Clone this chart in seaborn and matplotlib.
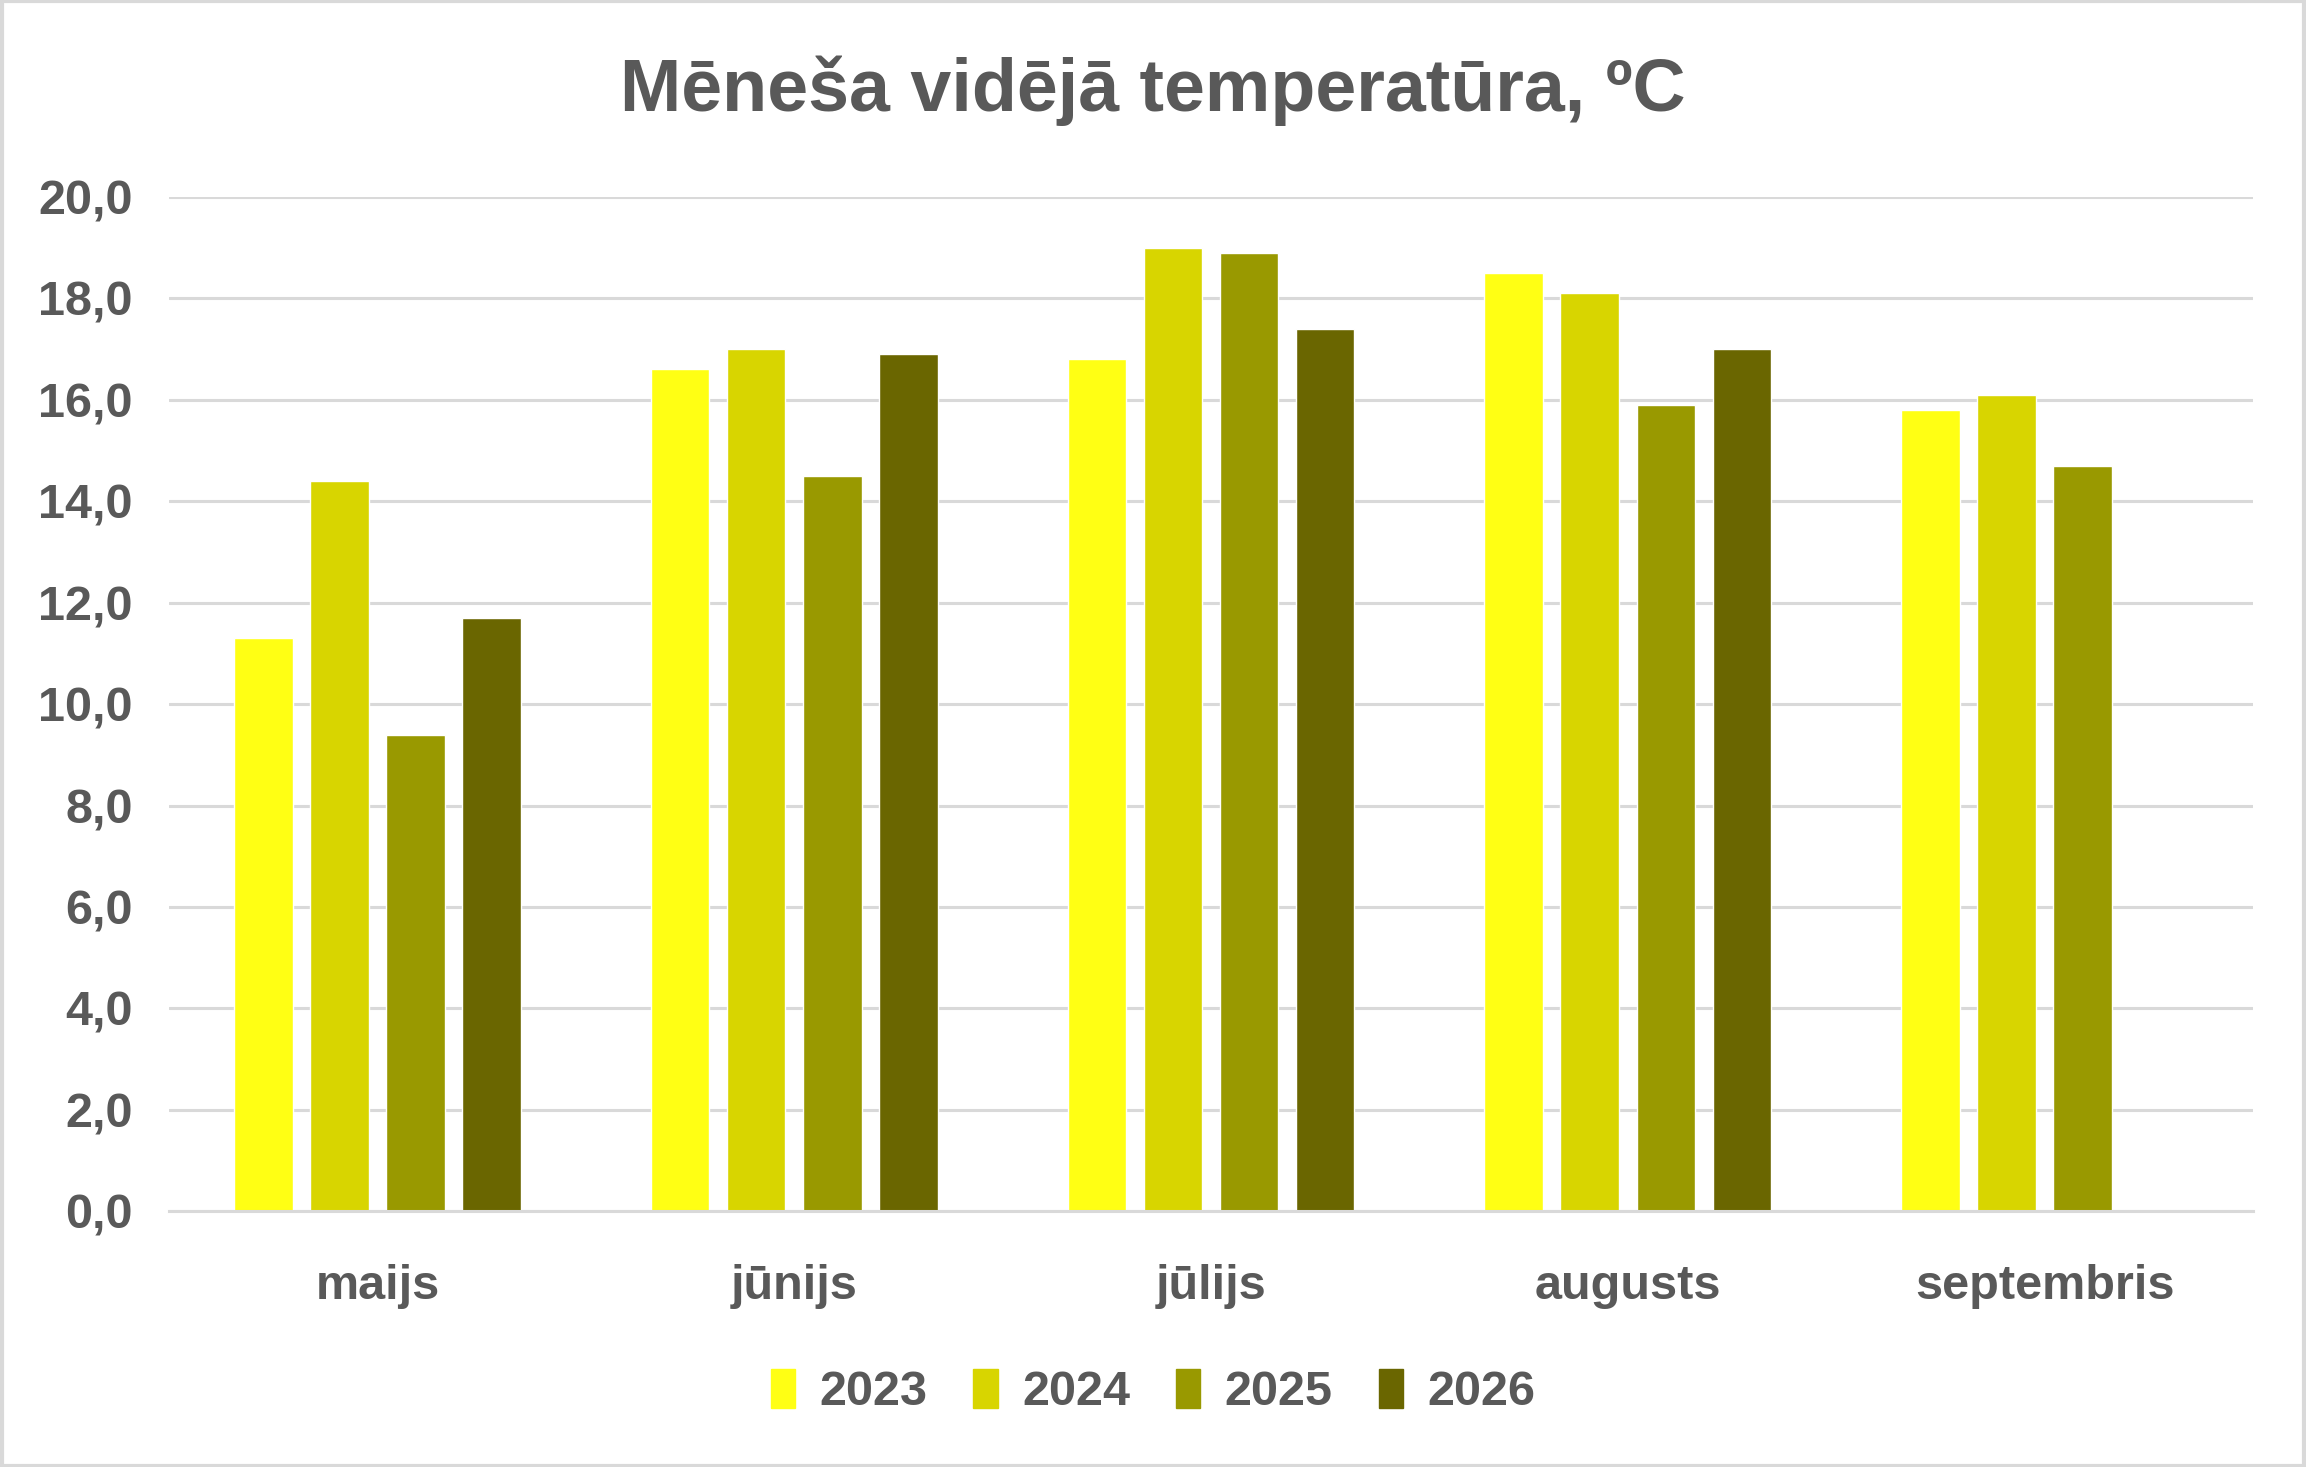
import matplotlib
matplotlib.use("Agg")
import matplotlib.pyplot as plt
import matplotlib.patches as mpatches
import numpy as np
import pandas as pd
import seaborn as sns
from matplotlib.ticker import FuncFormatter

months = ["maijs", "jūnijs", "jūlijs", "augusts", "septembris"]
years = ["2023", "2024", "2025", "2026"]
t_2023 = [11.3, 16.6, 16.8, 18.5, 15.8]
t_2024 = [14.4, 17.0, 19.0, 18.1, 16.1]
t_2025 = [9.4, 14.5, 18.9, 15.9, 14.7]
t_2026 = [11.7, 16.9, 17.4, 17.0, np.nan]
colors = ["#FFFF14", "#D8D500", "#999900", "#6A6600"]
text_color = "#595959"

rows = []
for year, vals in zip(years, [t_2023, t_2024, t_2025, t_2026]):
    for m, v in zip(months, vals):
        rows.append({"menesis": m, "gads": year, "temp": v})
df = pd.DataFrame(rows)

sns.set_theme(style="white")
plt.rcParams["font.family"] = ["Liberation Sans", "DejaVu Sans"]

fig = plt.figure(figsize=(23.06, 14.67), dpi=100)
ax = fig.add_axes([0.0733, 0.1743, 0.9037, 0.6914])

sns.barplot(data=df, x="menesis", y="temp", hue="gads", order=months,
            hue_order=years, palette=colors, width=0.73, gap=0.23,
            saturation=1, errorbar=None, ax=ax, legend=False)

ax.set_ylim(0, 20)
ax.set_yticks(np.arange(0, 20.1, 2))
ax.yaxis.set_major_formatter(FuncFormatter(lambda v, p: f"{v:.1f}".replace(".", ",")))
ax.grid(axis="y", color="#D9D9D9", linewidth=2.2)
ax.set_axisbelow(True)
for s in ["top", "right", "left"]:
    ax.spines[s].set_visible(False)
ax.spines["bottom"].set_color("#D9D9D9")
ax.spines["bottom"].set_linewidth(2.2)
ax.set_xlabel("")
ax.set_ylabel("")
ax.tick_params(axis="both", length=0, labelsize=35, labelcolor=text_color)
ax.tick_params(axis="x", pad=38)
ax.tick_params(axis="y", pad=26)
for lbl in ax.get_xticklabels() + ax.get_yticklabels():
    lbl.set_fontweight("bold")
ax.set_xlim(-0.5, 4.5)

fig.text(0.5, 0.938, "Mēneša vidējā temperatūra, ºC", ha="center", va="center",
         fontsize=53, fontweight="bold", color=text_color)

handles = [mpatches.Patch(color=c, label=y) for c, y in zip(colors, years)]
leg = fig.legend(handles=handles, loc="center", bbox_to_anchor=(0.5, 0.051), ncol=4,
                 frameon=False, fontsize=35, handlelength=0.5, handleheight=0.85,
                 handletextpad=0.5, columnspacing=0.95)
for t in leg.get_texts():
    t.set_color(text_color)
    t.set_fontweight("bold")

border = mpatches.Rectangle((0.001, 0.001), 0.998, 0.998, transform=fig.transFigure,
                            fill=False, edgecolor="#D9D9D9", linewidth=3)
fig.patches.append(border)

fig.savefig("out.png", dpi=100, facecolor="white")
